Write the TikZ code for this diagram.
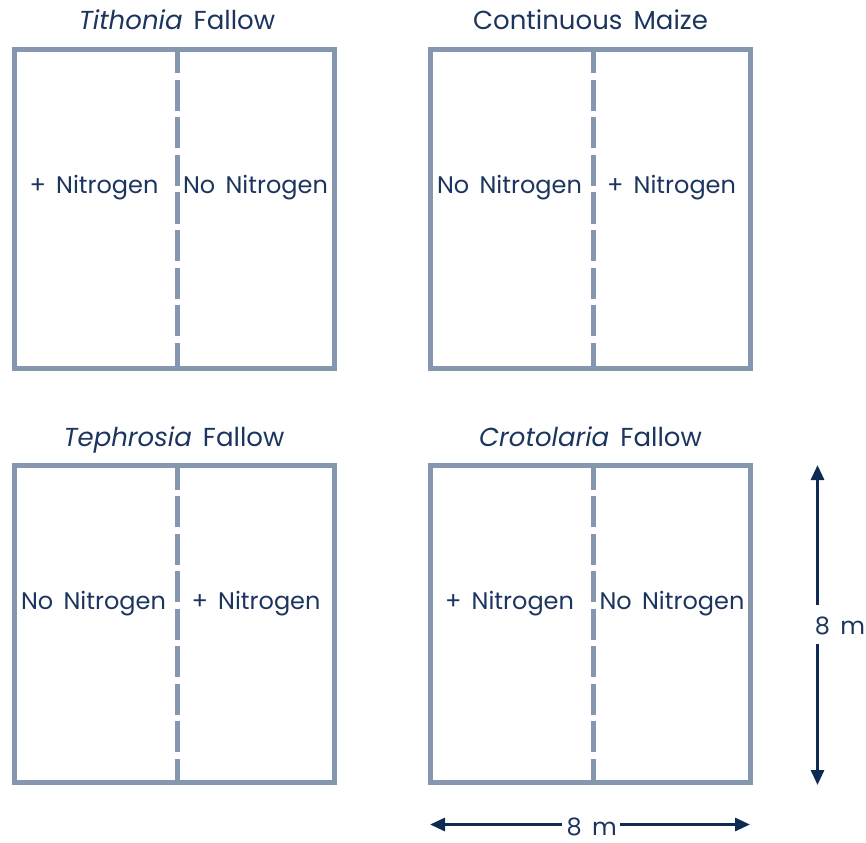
\documentclass[tikz,border=0pt]{standalone}
\usepackage{fontspec}
\setmainfont{Poppins}[WordSpace=1.6]
\usetikzlibrary{arrows.meta}
\definecolor{boxc}{HTML}{8497AE}
\definecolor{txt}{HTML}{1C355E}
\definecolor{arr}{HTML}{0E2B54}
\begin{document}
\begin{tikzpicture}[x=1pt,y=-1pt,
  plotbox/.style={draw=boxc,line width=5pt},
  divider/.style={draw=boxc,line width=5pt,dash pattern=on 31pt off 6.5pt,dash phase=7pt},
  lab/.style={text=txt,font=\fontsize{24}{28}\selectfont,anchor=base,inner sep=0pt},
  ttl/.style={text=txt,font=\fontsize{26}{30}\selectfont,anchor=base,inner sep=0pt},
  dim/.style={draw=arr,line width=3pt,-{Triangle[length=15pt,width=13pt]}}]
\useasboundingbox (0,0) rectangle (866,842);
% top-left: Tithonia
\draw[plotbox] (14.5,49.5) rectangle (334,368.5);
\draw[divider] (177,49.5) -- (177,368.5);
\node[ttl] (t1) at (177,30) {\textit{Tithonia} Fallow};
\node[lab] (a1) at (94,194) {+ Nitrogen};
\node[lab] (b1) at (255.5,194) {No Nitrogen};
% top-right: Continuous Maize
\draw[plotbox] (430.7,49.5) rectangle (750,368.5);
\draw[divider] (593,49.5) -- (593,368.5);
\node[ttl] (t2) at (590.5,30) {Continuous Maize};
\node[lab] (a2) at (509.5,194) {No Nitrogen};
\node[lab] (b2) at (671.5,194) {+ Nitrogen};
% bottom-left: Tephrosia
\draw[plotbox] (14.5,465.5) rectangle (334,782.5);
\draw[divider] (177,465.5) -- (177,782.5);
\node[ttl] (t3) at (174,446) {\textit{Tephrosia} Fallow};
\node[lab] (a3) at (93.5,609) {No Nitrogen};
\node[lab] (b3) at (256,609) {+ Nitrogen};
% bottom-right: Crotolaria
\draw[plotbox] (430.7,465.5) rectangle (750,782.5);
\draw[divider] (593,465.5) -- (593,782.5);
\node[ttl] (t4) at (590.5,446) {\textit{Crotolaria} Fallow};
\node[lab] (a4) at (509.5,609) {+ Nitrogen};
\node[lab] (b4) at (672,609) {No Nitrogen};
% vertical dimension
\coordinate (vtop) at (817.5,465);
\coordinate (vbot) at (817.5,785);
\coordinate (vg1) at (817.5,605);
\coordinate (vg2) at (817.5,644);
\node[lab] (vlab) at (840,634) {8 m};
\draw[dim] (vg1) -- (vtop);
\draw[dim] (vg2) -- (vbot);
% horizontal dimension
\coordinate (hl) at (430,824.5);
\coordinate (hr) at (750,824.5);
\coordinate (hg1) at (561.7,824.5);
\coordinate (hg2) at (620,824.5);
\node[lab] (hlab) at (591.7,835) {8 m};
\draw[dim] (hg1) -- (hl);
\draw[dim] (hg2) -- (hr);
\end{tikzpicture}
\end{document}
